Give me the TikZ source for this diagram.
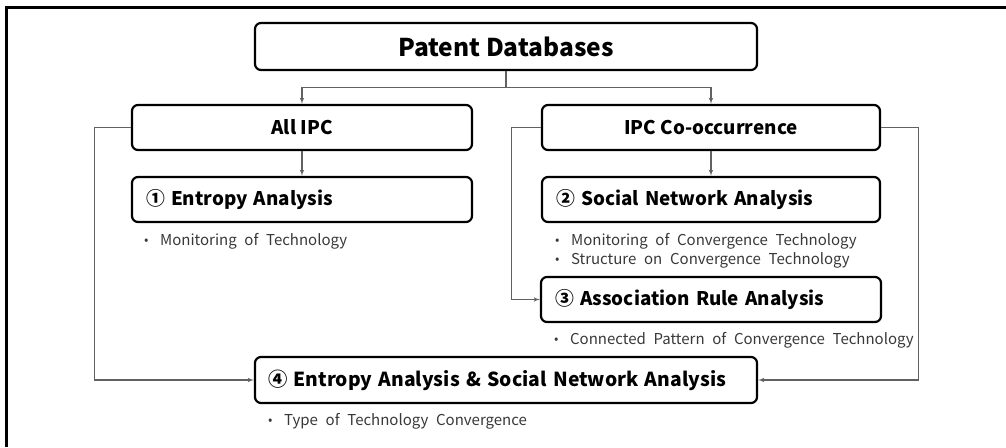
\documentclass[tikz,border=0pt]{standalone}
\usepackage{fontspec}
\setmainfont{Noto Sans CJK KR}
\newfontfamily\noteFamily{Noto Sans CJK KR}[WordSpace=2.3]
\usepackage{tikz}
\usetikzlibrary{arrows,positioning}
\newcommand\headFont{\fontsize{24.5}{28}\selectfont\bfseries}
\newcommand\titleFont{\fontsize{18.8}{22}\selectfont\bfseries}
\newcommand\noteFont{\noteFamily\fontsize{15}{19}\selectfont}
\newcommand\noteItem[1]{\makebox[16pt][l]{\raisebox{0.5pt}{\fontsize{13}{13}\selectfont\textbullet}}#1}
\tikzset{
  box-style/.style = {
    rectangle, rounded corners=6pt, draw, line width=2.2pt,
    minimum height=45pt, inner sep=0pt,
    font=\titleFont
  },
  head-style/.style = {
    box-style, minimum width=502pt, minimum height=47pt,
    font=\headFont
  },
  source-style/.style = {
    box-style, minimum width=340pt
  },
  method-style/.style = {
    box-style, inner xsep=14pt, text width=312pt, align=left
  },
  combined-style/.style = {
    box-style, minimum height=46pt, inner xsep=13pt, text width=476pt, align=left,
    font=\fontsize{19.3}{23}\selectfont\bfseries
  },
  note-style/.style = {
    anchor=base west, inner sep=0pt, font=\noteFont, text=black!78
  },
  link/.style = {draw=black!62, line width=1.1pt, >=latex'}
}
\begin{document}
\begin{tikzpicture}[x=1pt,y=-1pt]
  \useasboundingbox (0,0) rectangle (1006,447);
  % frame, cut at right and bottom
  \draw[line width=3pt] (6.5,447) -- (6.5,7.5) -- (1006,7.5);

  \node[head-style] (db) at (506,46.5) {Patent Databases};
  \node[source-style] (allIPC) at (302,127.5) {All IPC};
  \node[source-style, minimum width=338pt] (coIPC) at (711,127.5) {IPC Co-occurrence};

  \node[method-style] (entropy) at (302,199.5) {① Entropy Analysis};
  \node[method-style, text width=310pt] (sna) at (711,199.5) {② Social Network Analysis};
  \node[method-style] (assoc) at (711,299.5) {③ Association Rule Analysis};
  \node[combined-style] (combined) at (506,380) {④ Entropy Analysis \& Social Network Analysis};

  \node[note-style] (entropy-note) at ([xshift=13pt,yshift=-22pt]entropy.south west) {\noteItem{Monitoring of Technology}};
  \node[note-style] (sna-note-a) at ([xshift=14pt,yshift=-22pt]sna.south west) {\noteItem{Monitoring of Convergence Technology}};
  \node[note-style] (sna-note-b) at ([yshift=-19pt]sna-note-a.base west) {\noteItem{Structure on Convergence Technology}};
  \node[note-style] (assoc-note) at ([xshift=14pt,yshift=-21pt]assoc.south west) {\noteItem{Connected Pattern of Convergence Technology}};
  \node[note-style] (combined-note) at ([xshift=14pt,yshift=-21pt]combined.south west) {\noteItem{Type of Technology Convergence}};

  % connectors
  \draw[link] (db.south) -- ++(0,16.5) coordinate (split);
  \draw[link,->] (split) -| (allIPC.north);
  \draw[link,->] (split) -| (coIPC.north);
  \draw[link,->] (allIPC.south) -- (entropy.north);
  \draw[link,->] (coIPC.south) -- (sna.north);
  \draw[link,->] (allIPC.west) -- ++(-36,0) |- (combined.west);
  \draw[link,->] (coIPC.west) -- ++(-29,0) |- (assoc.west);
  \draw[link,->] (coIPC.east) -- ++(37,0) |- (combined.east);
\end{tikzpicture}
\end{document}
